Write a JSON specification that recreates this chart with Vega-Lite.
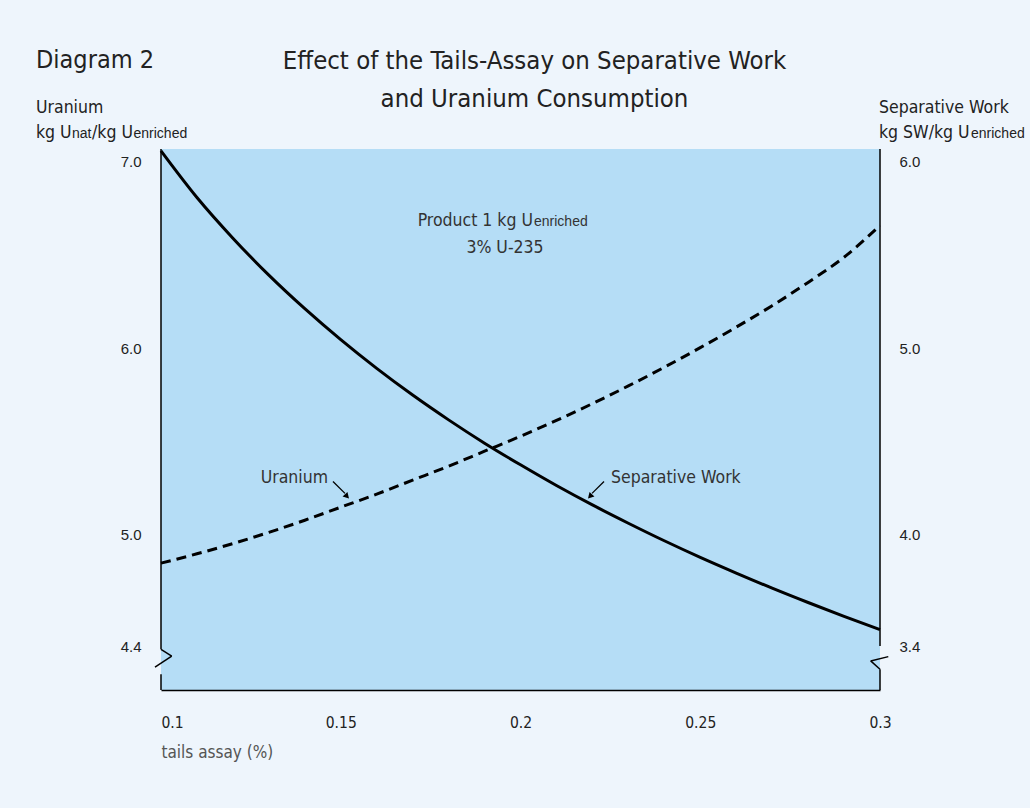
{
  "$schema": "https://vega.github.io/schema/vega-lite/v6.json",
  "width": 719,
  "height": 541,
  "autosize": {"type": "none"},
  "padding": {"left": 161, "top": 149, "right": 150, "bottom": 118},
  "background": "#EEF5FC",
  "config": {
    "view": {"fill": "#B5DDF6", "stroke": null},
    "text": {"font": "DejaVu Sans Condensed, Liberation Sans, sans-serif", "color": "#222"}
  },
  "datasets": {
    "curves": [
      {"tails": 0.10, "uranium": 4.780, "sw": 5.990},
      {"tails": 0.11, "uranium": 4.830, "sw": 5.740},
      {"tails": 0.12, "uranium": 4.885, "sw": 5.522},
      {"tails": 0.13, "uranium": 4.945, "sw": 5.324},
      {"tails": 0.14, "uranium": 5.010, "sw": 5.144},
      {"tails": 0.15, "uranium": 5.080, "sw": 4.978},
      {"tails": 0.16, "uranium": 5.150, "sw": 4.824},
      {"tails": 0.17, "uranium": 5.225, "sw": 4.681},
      {"tails": 0.18, "uranium": 5.300, "sw": 4.548},
      {"tails": 0.19, "uranium": 5.380, "sw": 4.423},
      {"tails": 0.20, "uranium": 5.460, "sw": 4.307},
      {"tails": 0.21, "uranium": 5.545, "sw": 4.196},
      {"tails": 0.22, "uranium": 5.635, "sw": 4.092},
      {"tails": 0.23, "uranium": 5.730, "sw": 3.994},
      {"tails": 0.24, "uranium": 5.830, "sw": 3.900},
      {"tails": 0.25, "uranium": 5.935, "sw": 3.811},
      {"tails": 0.26, "uranium": 6.045, "sw": 3.727},
      {"tails": 0.27, "uranium": 6.160, "sw": 3.646},
      {"tails": 0.28, "uranium": 6.285, "sw": 3.569},
      {"tails": 0.29, "uranium": 6.420, "sw": 3.495},
      {"tails": 0.30, "uranium": 6.590, "sw": 3.424}
    ]
  },
  "layer": [
    {
      "layer": [
        {
          "data": {"name": "curves"},
          "mark": {"type": "line", "stroke": "#000", "strokeWidth": 3, "strokeDash": [10, 6], "strokeCap": "butt", "interpolate": "monotone"},
          "encoding": {
            "x": {
              "field": "tails", "type": "quantitative",
              "scale": {"domain": [0.1, 0.3], "nice": false, "zero": false},
              "axis": {
                "values": [0.1, 0.15, 0.2, 0.25, 0.3], "format": "~g",
                "ticks": false, "tickSize": 0, "grid": false,
                "domain": true, "domainColor": "#000", "domainWidth": 1.5,
                "labelFont": "DejaVu Sans Condensed, Liberation Sans, sans-serif",
                "labelFontSize": 15.5, "labelColor": "#222", "labelPadding": 32, "labelBaseline": "middle",
                "labelFlush": false, "labelOverlap": false, "labelBound": false,
                "labelAlign": {"expr": "datum.value == 0.1 ? 'left' : 'center'"},
                "title": "tails assay (%)",
                "titleFont": "DejaVu Sans Condensed, Liberation Sans, sans-serif",
                "titleFontSize": 17, "titleFontWeight": "normal", "titleColor": "#555",
                "titleAnchor": "start", "titleAlign": "left", "titleX": 0, "titleY": 62, "titleBaseline": "middle"
              }
            },
            "y": {
              "field": "uranium", "type": "quantitative",
              "scale": {"domain": [4.1, 7.0], "nice": false, "zero": false},
              "axis": {
                "orient": "left", "values": [4.4, 5, 6, 7], "format": ".1f", "title": null,
                "ticks": false, "tickSize": 0, "domain": false, "grid": false,
                "labelFont": "Liberation Sans, Arial, sans-serif", "labelFontSize": 15, "labelColor": "#222",
                "labelPadding": 20, "labelOffset": 12.5, "labelBaseline": "middle", "labelAlign": "right"
              }
            }
          }
        },
        {
          "data": {"values": [{}]},
          "mark": {"type": "rule", "stroke": "#000", "strokeWidth": 1.5},
          "encoding": {"x": {"datum": 0.1, "type": "quantitative"}, "y": {"datum": 7.0, "type": "quantitative"}, "y2": {"datum": 4.318}}
        },
        {
          "data": {"values": [{}]},
          "mark": {"type": "rule", "stroke": "#000", "strokeWidth": 1.5},
          "encoding": {"x": {"datum": 0.1, "type": "quantitative"}, "y": {"datum": 4.184, "type": "quantitative"}, "y2": {"datum": 4.1}}
        },
        {
          "data": {"values": [{}]},
          "mark": {"type": "rule", "stroke": "#000", "strokeWidth": 1.5},
          "encoding": {"x": {"datum": 0.1, "type": "quantitative"}, "y": {"datum": 4.318, "type": "quantitative"}, "x2": {"datum": 0.10298}, "y2": {"datum": 4.281}}
        },
        {
          "data": {"values": [{}]},
          "mark": {"type": "rule", "stroke": "#000", "strokeWidth": 1.5},
          "encoding": {"x": {"datum": 0.10298, "type": "quantitative"}, "y": {"datum": 4.281, "type": "quantitative"}, "x2": {"datum": 0.09833}, "y2": {"datum": 4.222}}
        },
        {
          "data": {"values": [{}]},
          "mark": {"type": "text", "text": "Diagram 2", "align": "left", "baseline": "alphabetic", "dx": -125, "dy": -81.3, "fontSize": 25},
          "encoding": {"x": {"datum": 0.1, "type": "quantitative"}, "y": {"datum": 7.0, "type": "quantitative"}}
        },
        {
          "data": {"values": [{}]},
          "mark": {"type": "text", "text": ["Effect of the Tails-Assay on Separative Work", "and Uranium Consumption"], "lineHeight": 38, "align": "center", "baseline": "alphabetic", "dx": 14, "dy": -80.3, "fontSize": 25.5},
          "encoding": {"x": {"datum": 0.2, "type": "quantitative"}, "y": {"datum": 7.0, "type": "quantitative"}}
        },
        {
          "data": {"values": [{}]},
          "mark": {"type": "text", "text": "Uranium", "align": "left", "baseline": "alphabetic", "dx": -125, "dy": -36.3, "fontSize": 17.5},
          "encoding": {"x": {"datum": 0.1, "type": "quantitative"}, "y": {"datum": 7.0, "type": "quantitative"}}
        },
        {
          "data": {"values": [{}]},
          "mark": {"type": "text", "text": "kg U", "align": "left", "baseline": "alphabetic", "dx": -125, "dy": -11.3, "fontSize": 17.5},
          "encoding": {"x": {"datum": 0.1, "type": "quantitative"}, "y": {"datum": 7.0, "type": "quantitative"}}
        },
        {
          "data": {"values": [{}]},
          "mark": {"type": "text", "text": "nat", "font": "Liberation Sans, sans-serif", "align": "left", "baseline": "alphabetic", "dx": -89, "dy": -11.3, "fontSize": 14},
          "encoding": {"x": {"datum": 0.1, "type": "quantitative"}, "y": {"datum": 7.0, "type": "quantitative"}}
        },
        {
          "data": {"values": [{}]},
          "mark": {"type": "text", "text": "/kg U", "align": "left", "baseline": "alphabetic", "dx": -69, "dy": -11.3, "fontSize": 17.5},
          "encoding": {"x": {"datum": 0.1, "type": "quantitative"}, "y": {"datum": 7.0, "type": "quantitative"}}
        },
        {
          "data": {"values": [{}]},
          "mark": {"type": "text", "text": "enriched", "font": "Liberation Sans, sans-serif", "align": "left", "baseline": "alphabetic", "dx": -27.5, "dy": -11.3, "fontSize": 14},
          "encoding": {"x": {"datum": 0.1, "type": "quantitative"}, "y": {"datum": 7.0, "type": "quantitative"}}
        },
        {
          "data": {"values": [{}]},
          "mark": {"type": "text", "text": "Separative Work", "align": "left", "baseline": "alphabetic", "dx": -1, "dy": -36.3, "fontSize": 17.5},
          "encoding": {"x": {"datum": 0.3, "type": "quantitative"}, "y": {"datum": 7.0, "type": "quantitative"}}
        },
        {
          "data": {"values": [{}]},
          "mark": {"type": "text", "text": "kg SW/kg U", "align": "left", "baseline": "alphabetic", "dx": -1, "dy": -11.3, "fontSize": 17.5},
          "encoding": {"x": {"datum": 0.3, "type": "quantitative"}, "y": {"datum": 7.0, "type": "quantitative"}}
        },
        {
          "data": {"values": [{}]},
          "mark": {"type": "text", "text": "enriched", "font": "Liberation Sans, sans-serif", "align": "left", "baseline": "alphabetic", "dx": 91, "dy": -11.3, "fontSize": 14},
          "encoding": {"x": {"datum": 0.3, "type": "quantitative"}, "y": {"datum": 7.0, "type": "quantitative"}}
        },
        {
          "data": {"values": [{}]},
          "mark": {"type": "text", "text": "Product 1 kg U", "align": "right", "baseline": "alphabetic", "fontSize": 17.5, "color": "#333"},
          "encoding": {"x": {"datum": 0.20348, "type": "quantitative"}, "y": {"datum": 6.589, "type": "quantitative"}}
        },
        {
          "data": {"values": [{}]},
          "mark": {"type": "text", "text": "enriched", "font": "Liberation Sans, sans-serif", "align": "left", "baseline": "alphabetic", "fontSize": 14, "color": "#333"},
          "encoding": {"x": {"datum": 0.20376, "type": "quantitative"}, "y": {"datum": 6.589, "type": "quantitative"}}
        },
        {
          "data": {"values": [{}]},
          "mark": {"type": "text", "text": "3% U-235", "align": "center", "baseline": "alphabetic", "fontSize": 17.5, "color": "#333"},
          "encoding": {"x": {"datum": 0.19569, "type": "quantitative"}, "y": {"datum": 6.445, "type": "quantitative"}}
        },
        {
          "data": {"values": [{}]},
          "mark": {"type": "text", "text": "Uranium", "align": "right", "baseline": "middle", "fontSize": 17.5, "color": "#333"},
          "encoding": {"x": {"datum": 0.14645, "type": "quantitative"}, "y": {"datum": 5.239, "type": "quantitative"}}
        },
        {
          "data": {"values": [{}]},
          "mark": {"type": "text", "text": "Separative Work", "align": "left", "baseline": "middle", "fontSize": 17.5, "color": "#333"},
          "encoding": {"x": {"datum": 0.22517, "type": "quantitative"}, "y": {"datum": 5.239, "type": "quantitative"}}
        },
        {
          "data": {"values": [{}]},
          "mark": {"type": "rule", "stroke": "#000", "strokeWidth": 1.3},
          "encoding": {"x": {"datum": 0.14784, "type": "quantitative"}, "y": {"datum": 5.218, "type": "quantitative"}, "x2": {"datum": 0.15118}, "y2": {"datum": 5.154}}
        },
        {
          "data": {"values": [{}]},
          "mark": {"type": "point", "shape": "triangle-up", "angle": 137, "filled": true, "color": "#000", "size": 45, "opacity": 1},
          "encoding": {"x": {"datum": 0.15174, "type": "quantitative"}, "y": {"datum": 5.138, "type": "quantitative"}}
        },
        {
          "data": {"values": [{}]},
          "mark": {"type": "rule", "stroke": "#000", "strokeWidth": 1.3},
          "encoding": {"x": {"datum": 0.22323, "type": "quantitative"}, "y": {"datum": 5.218, "type": "quantitative"}, "x2": {"datum": 0.21989}, "y2": {"datum": 5.154}}
        },
        {
          "data": {"values": [{}]},
          "mark": {"type": "point", "shape": "triangle-up", "angle": 223, "filled": true, "color": "#000", "size": 45, "opacity": 1},
          "encoding": {"x": {"datum": 0.21933, "type": "quantitative"}, "y": {"datum": 5.138, "type": "quantitative"}}
        }
      ]
    },
    {
      "layer": [
        {
          "data": {"name": "curves"},
          "mark": {"type": "line", "stroke": "#000", "strokeWidth": 3, "interpolate": "monotone"},
          "encoding": {
            "x": {"field": "tails", "type": "quantitative"},
            "y": {
              "field": "sw", "type": "quantitative",
              "scale": {"domain": [3.1, 6.0], "nice": false, "zero": false},
              "axis": {
                "orient": "right", "values": [3.4, 4, 5, 6], "format": ".1f", "title": null,
                "ticks": false, "tickSize": 0, "domain": false, "grid": false,
                "labelFont": "Liberation Sans, Arial, sans-serif", "labelFontSize": 15, "labelColor": "#222",
                "labelPadding": 19, "labelOffset": 12.5, "labelBaseline": "middle", "labelAlign": "left"
              }
            }
          }
        },
        {
          "data": {"values": [{}]},
          "mark": {"type": "rule", "stroke": "#000", "strokeWidth": 1.5},
          "encoding": {"x": {"datum": 0.3, "type": "quantitative"}, "y": {"datum": 6.0, "type": "quantitative"}, "y2": {"datum": 3.336}}
        },
        {
          "data": {"values": [{}]},
          "mark": {"type": "rule", "stroke": "#000", "strokeWidth": 1.5},
          "encoding": {"x": {"datum": 0.3, "type": "quantitative"}, "y": {"datum": 3.211, "type": "quantitative"}, "y2": {"datum": 3.1}}
        },
        {
          "data": {"values": [{}]},
          "mark": {"type": "rule", "stroke": "#000", "strokeWidth": 1.5},
          "encoding": {"x": {"datum": 0.30231, "type": "quantitative"}, "y": {"datum": 3.279, "type": "quantitative"}, "x2": {"datum": 0.29741}, "y2": {"datum": 3.256}}
        },
        {
          "data": {"values": [{}]},
          "mark": {"type": "rule", "stroke": "#000", "strokeWidth": 1.5},
          "encoding": {"x": {"datum": 0.29741, "type": "quantitative"}, "y": {"datum": 3.256, "type": "quantitative"}, "x2": {"datum": 0.3}, "y2": {"datum": 3.211}}
        }
      ]
    }
  ],
  "resolve": {"scale": {"y": "independent"}}
}
